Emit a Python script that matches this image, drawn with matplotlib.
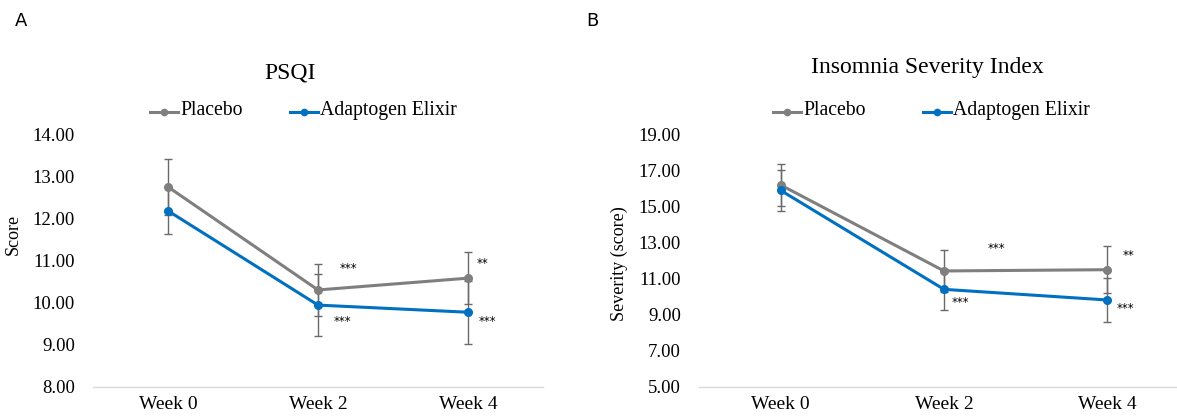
"""
Two-panel line chart: PSQI (A) and Insomnia Severity Index (B)
for Placebo vs Adaptogen Elixir at weeks 0, 2 and 4, with error bars.
"""

import matplotlib
matplotlib.use('Agg')
import matplotlib.pyplot as plt
from matplotlib.lines import Line2D

plt.rcParams['font.family'] = ['Liberation Serif', 'DejaVu Serif']

# ---- data -------------------------------------------------------------
weeks = ['Week 0', 'Week 2', 'Week 4']

psqi_placebo = [12.75, 10.30, 10.58]
psqi_placebo_err = [0.66, 0.61, 0.62]
psqi_elixir = [12.18, 9.94, 9.77]
psqi_elixir_err = [0.56, 0.73, 0.75]

isi_placebo = [16.19, 11.42, 11.49]
isi_placebo_err = [1.15, 1.18, 1.31]
isi_elixir = [15.89, 10.40, 9.81]
isi_elixir_err = [1.15, 1.14, 1.20]

# significance marks: (x position, y value, text)
psqi_marks = [(1.2, 10.82, '***'), (1.16, 9.56, '***'),
              (2.1, 10.94, '**'), (2.13, 9.55, '***')]
isi_marks = [(1.32, 12.64, '***'), (1.10, 9.66, '***'),
             (2.13, 12.29, '**'), (2.11, 9.33, '***')]

GRAY = '#7f7f7f'
BLUE = '#0070c0'
ERR = '#6a6a6a'

W, H = 1177, 416


def draw_panel(ax, placebo, placebo_err, elixir, elixir_err, marks,
               ylim, yticks, ylabel):
    x = list(range(len(weeks)))
    ax.errorbar(x, placebo, yerr=placebo_err, fmt='none', ecolor=ERR,
                elinewidth=1.0, capsize=3, capthick=1.0, zorder=1)
    ax.errorbar(x, elixir, yerr=elixir_err, fmt='none', ecolor=ERR,
                elinewidth=1.0, capsize=3, capthick=1.0, zorder=1)
    ax.plot(x, placebo, color=GRAY, lw=2.2, marker='o', ms=5.5, zorder=3)
    ax.plot(x, elixir, color=BLUE, lw=2.2, marker='o', ms=5.5, zorder=4)
    for mx, my, txt in marks:
        ax.text(mx, my, txt, fontsize=8.5, ha='center', va='center',
                family='DejaVu Sans')

    ax.set_xlim(-0.5, len(weeks) - 0.5)
    ax.set_ylim(*ylim)
    ax.set_xticks(x)
    ax.set_xticklabels(weeks, fontsize=14)
    ax.set_yticks(yticks)
    ax.set_yticklabels([f'{v:.2f}' for v in yticks], fontsize=13.5)
    ax.tick_params(axis='x', length=0, pad=7)
    ax.tick_params(axis='y', length=0, pad=13)
    for side in ['top', 'right', 'left']:
        ax.spines[side].set_visible(False)
    ax.spines['bottom'].set_color('#d9d9d9')
    ax.spines['bottom'].set_linewidth(1.0)
    ax.set_ylabel(ylabel, fontsize=13)


def draw_legend(fig, x_placebo, x_elixir, y):
    for x0, color, label in [(x_placebo, GRAY, 'Placebo'),
                             (x_elixir, BLUE, 'Adaptogen Elixir')]:
        fig.add_artist(Line2D([x0 / W, (x0 + 28) / W], [1 - y / H] * 2,
                              color=color, lw=2.2))
        fig.add_artist(Line2D([(x0 + 14) / W], [1 - y / H], color=color,
                              marker='o', ms=4.5))
        fig.text((x0 + 30) / W, 1 - (y - 1.5) / H, label, fontsize=14.2,
                 va='center', ha='left')


fig = plt.figure(figsize=(W / 100, H / 100), dpi=100)

bottom = 1 - 386.7 / H
height = (386.7 - 134.3) / H

ax1 = fig.add_axes([93 / W, bottom, (543 - 93) / W, height])
draw_panel(ax1, psqi_placebo, psqi_placebo_err, psqi_elixir, psqi_elixir_err,
           psqi_marks, (8, 14), [8, 9, 10, 11, 12, 13, 14], 'Score')
ax1.yaxis.set_label_coords((22 - 93) / 450, (386.7 - 234) / 252.4)

ax2 = fig.add_axes([699 / W, bottom, (1189 - 699) / W, height])
draw_panel(ax2, isi_placebo, isi_placebo_err, isi_elixir, isi_elixir_err,
           isi_marks, (5, 19), [5, 7, 9, 11, 13, 15, 17, 19],
           'Severity (score)')
ax2.yaxis.set_label_coords((628 - 699) / 490, (386.7 - 264) / 252.4)

fig.text(290 / W, 1 - 73 / H, 'PSQI', fontsize=17, ha='center', va='center')
fig.text(927 / W, 1 - 67 / H, 'Insomnia Severity Index', fontsize=17,
         ha='center', va='center')

draw_legend(fig, 150, 290, 112)
draw_legend(fig, 773, 923, 112)

fig.text(21 / W, 1 - 21 / H, 'A', fontsize=13, family='DejaVu Sans',
         ha='center', va='center')
fig.text(592 / W, 1 - 21 / H, 'B', fontsize=13, family='DejaVu Sans',
         ha='center', va='center')

fig.savefig('out.png', dpi=100, facecolor='white')
